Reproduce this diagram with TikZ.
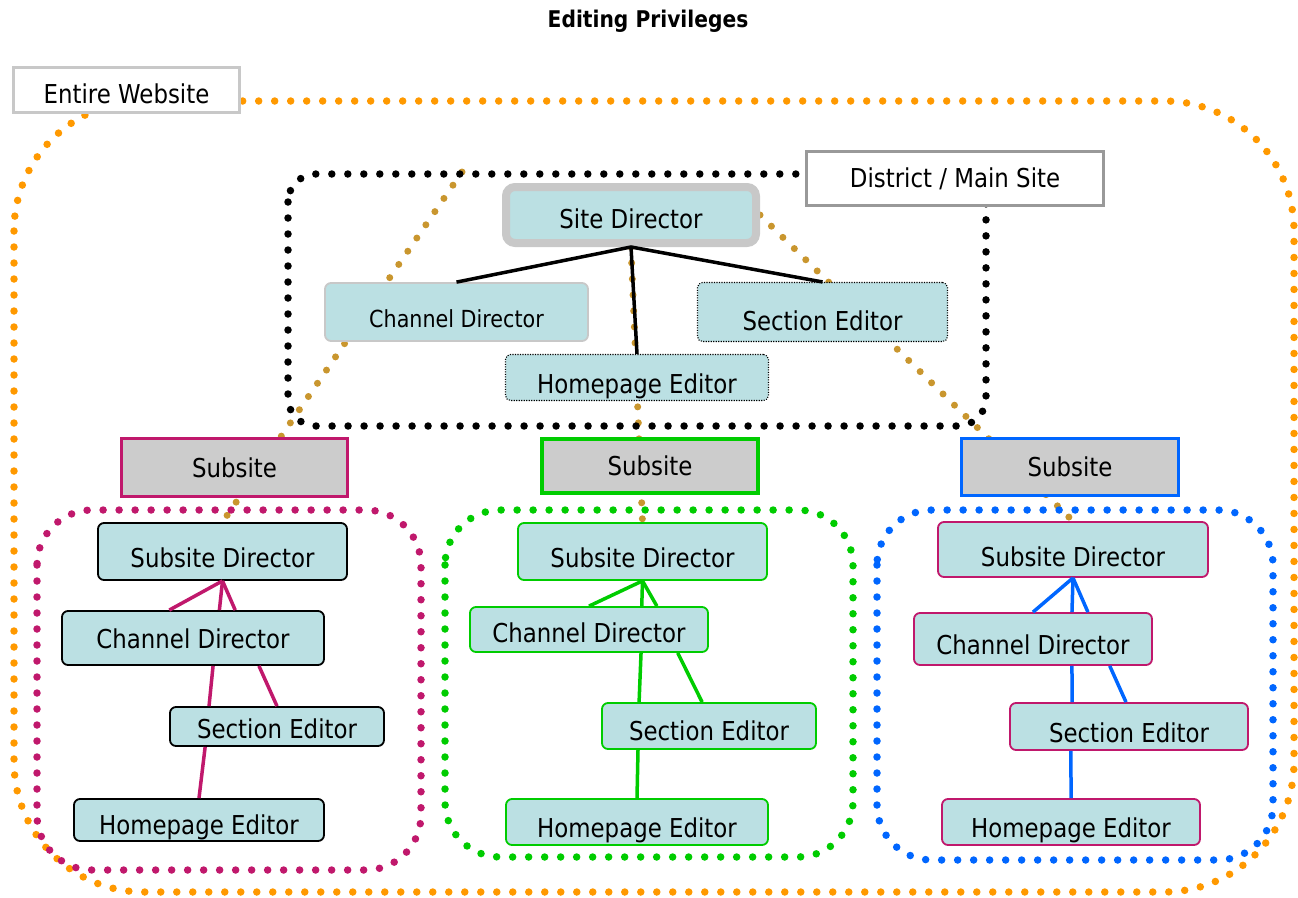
\documentclass[tikz,border=0pt]{standalone}
\usepackage{fontspec}
\setmainfont{DejaVu Sans}[FakeStretch=0.88]
\usetikzlibrary{calc,backgrounds}
\definecolor{boxblue}{RGB}{187,224,227}
\definecolor{orangedot}{RGB}{255,153,0}
\definecolor{golddot}{RGB}{201,150,46}
\definecolor{subpink}{RGB}{192,24,108}
\definecolor{subgreen}{RGB}{0,204,0}
\definecolor{subblue}{RGB}{0,102,255}
\definecolor{lightgrey}{RGB}{200,200,200}
\definecolor{midgrey}{RGB}{153,153,153}
\definecolor{subgrey}{RGB}{204,204,204}
\newcommand{\rolefont}{\fontsize{26}{30}\selectfont}
\tikzset{
  dots/.style={line width=7.5pt,line cap=round,dash pattern=on 0pt off 16pt},
  golddots/.style={golddot,line width=7pt,line cap=round,dash pattern=on 0pt off 16pt},
  role/.style={draw=#1,fill=boxblue,line width=1.8pt,rounded corners=6pt,inner sep=0pt,
    text height=36pt,text depth=6pt,font=\rolefont},
  dottedrole/.style={draw=black,fill=boxblue,line width=1.1pt,dash pattern=on 1.1pt off 1.4pt,
    rounded corners=5pt,inner sep=0pt,text height=36pt,text depth=6pt,font=\rolefont},
  subsite/.style={draw=#1,fill=subgrey,line width=3pt,inner sep=0pt,font=\rolefont},
  label/.style={draw=#1,fill=white,line width=3pt,inner sep=0pt,font=\rolefont},
  link/.style={line width=3.5pt}
}
\begin{document}
\begin{tikzpicture}[x=1pt,y=-1pt]
\useasboundingbox (0,0) rectangle (1298,897);
% areas
\draw[dots,orangedot,rounded corners=130pt] (14,101) rectangle (1294,892);
\draw[dots,black,rounded corners=28pt] (288,174) rectangle (986,426);
\draw[dots,subpink,rounded corners=55pt] (37,510) rectangle (421,870);
\draw[dots,subgreen,rounded corners=55pt] (445,510) rectangle (853,857);
\draw[dots,subblue,rounded corners=55pt] (877,510) rectangle (1273,860);

\node[font=\bfseries\fontsize{23}{27}\selectfont] (title) at (648,21) {Editing Privileges};
\node[label=lightgrey,minimum width=226pt,minimum height=45pt,text height=32pt,text depth=6pt] (website) at (126.5,90) {Entire Website};
\node[label=midgrey,minimum width=297pt,minimum height=54pt] (district) at (955,178.5) {District / Main Site};

% main site
\node[fill=boxblue,draw=lightgrey,line width=8pt,rounded corners=9pt,minimum width=250pt,minimum height=56pt,
  inner sep=0pt,text height=32pt,text depth=6pt,font=\rolefont] (sitedir) at (631,215) {Site Director};
\node[role=lightgrey,minimum width=263pt,minimum height=58pt,font=\fontsize{23.5}{28}\selectfont] (chandir) at (456.5,312) {Channel Director};
\node[dottedrole,minimum width=250pt,minimum height=59pt,text height=42pt] (secedit) at (822.5,312) {Section Editor};
\node[dottedrole,minimum width=263pt,minimum height=46pt,text height=37pt] (homeedit) at (637,377.5) {Homepage Editor};

% subsites
\node[subsite=subpink,minimum width=226pt,minimum height=58pt] (sub1) at (234.5,467.5) {Subsite};
\node[subsite=subgreen,line width=4pt,minimum width=216pt,minimum height=54pt] (sub2) at (650,466) {Subsite};
\node[subsite=subblue,minimum width=217pt,minimum height=57pt] (sub3) at (1070,467) {Subsite};

\node[role=black,minimum width=249pt,minimum height=57pt,text height=37pt] (subdir1) at (222.5,551.5) {Subsite Director};
\node[role=black,minimum width=262pt,minimum height=54pt,text height=26pt] (chan1) at (193,638) {Channel Director};
\node[role=black,minimum width=214pt,minimum height=39pt,text height=29pt] (sec1) at (277,726.5) {Section Editor};
\node[role=black,minimum width=250pt,minimum height=42pt,text height=34pt] (home1) at (199,820) {Homepage Editor};

\node[role=subgreen,minimum width=249pt,minimum height=57pt,text height=37pt] (subdir2) at (642.5,551.5) {Subsite Director};
\node[role=subgreen,minimum width=238pt,minimum height=45pt,text height=31pt] (chan2) at (589,629.5) {Channel Director};
\node[role=subgreen,minimum width=214pt,minimum height=46pt,text height=34pt] (sec2) at (709,726) {Section Editor};
\node[role=subgreen,minimum width=262pt,minimum height=46pt] (home2) at (637,822) {Homepage Editor};

\node[role=subpink,minimum width=270pt,minimum height=55pt,text height=39pt] (subdir3) at (1073,549.5) {Subsite Director};
\node[role=subpink,minimum width=238pt,minimum height=52pt] (chan3) at (1033,639) {Channel Director};
\node[role=subpink,minimum width=238pt,minimum height=47pt,text height=37pt] (sec3) at (1129,726.5) {Section Editor};
\node[role=subpink,minimum width=258pt,minimum height=46pt] (home3) at (1071,822) {Homepage Editor};

% privilege paths
\coordinate (areatop) at (462,172);
\begin{scope}[on background layer]
\draw[golddots] (areatop) -- (subdir1.north);
\draw[golddots] (sitedir.south) -- (subdir2.north);
\draw[golddots] (sitedir.east) -- (subdir3.north);
\end{scope}

\draw[link] (chandir.north) -- (sitedir.south) -- (secedit.north);
\draw[link] (sitedir.south) -- (homeedit.north);

\draw[link,subpink] (subdir1.south) -- ($(chan1.north west)!0.41!(chan1.north east)$);
\draw[link,subpink] (subdir1.south) -- ($(chan1.north west)!0.60!(chan1.north east)$);
\draw[link,subpink] (subdir1.south) -- ($(chan1.north west)!0.66!(chan1.north east)$);
\draw[link,subpink] ($(chan1.south west)!0.576!(chan1.south east)$) -- ($(sec1.north west)!0.185!(sec1.north east)$);
\draw[link,subpink] ($(chan1.south west)!0.75!(chan1.south east)$) -- (sec1.north);
\draw[link,subpink] ($(sec1.south west)!0.167!(sec1.south east)$) -- (home1.north);

\draw[link,subgreen] (subdir2.south) -- (chan2.north);
\draw[link,subgreen] (subdir2.south) -- ($(chan2.north west)!0.72!(chan2.north east)$);
\draw[link,subgreen] (subdir2.south) -- ($(chan2.north west)!0.783!(chan2.north east)$);
\draw[link,subgreen] ($(chan2.south west)!0.717!(chan2.south east)$) -- ($(sec2.north west)!0.176!(sec2.north east)$);
\draw[link,subgreen] ($(chan2.south west)!0.87!(chan2.south east)$) -- ($(sec2.north west)!0.468!(sec2.north east)$);
\draw[link,subgreen] ($(sec2.south west)!0.171!(sec2.south east)$) -- (home2.north);

\draw[link,subblue] (subdir3.south) -- (chan3.north);
\draw[link,subblue] (subdir3.south) -- ($(chan3.north west)!0.6625!(chan3.north east)$);
\draw[link,subblue] (subdir3.south) -- ($(chan3.north west)!0.729!(chan3.north east)$);
\draw[link,subblue] ($(chan3.south west)!0.6625!(chan3.south east)$) -- ($(sec3.north west)!0.2625!(sec3.north east)$);
\draw[link,subblue] ($(chan3.south west)!0.82!(chan3.south east)$) -- ($(sec3.north west)!0.4875!(sec3.north east)$);
\draw[link,subblue] ($(sec3.south west)!0.258!(sec3.south east)$) -- (home3.north);
\end{tikzpicture}
\end{document}
